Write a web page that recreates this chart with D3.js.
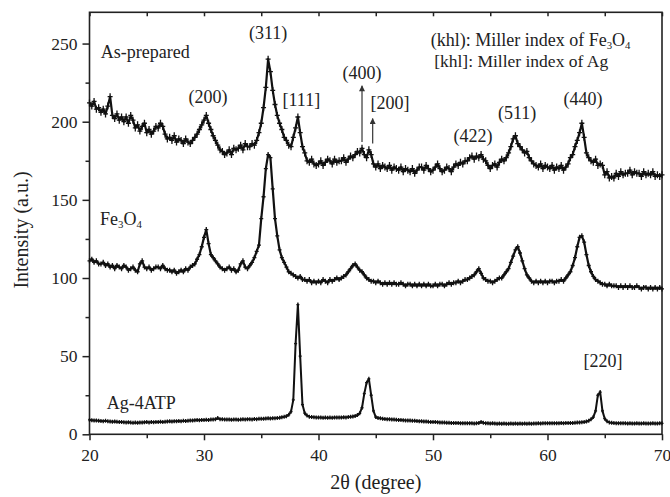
<!DOCTYPE html>
<html>
<head>
  <meta charset="UTF-8">
  <title>XRD patterns</title>
  <script src="https://d3js.org/d3.v7.min.js"></script>
  <style>
    body { margin: 0; background: #fff; }
    svg text { font-family: "Liberation Serif", "Times New Roman", serif; fill: #222; }
    .frame { fill: none; stroke: #222; stroke-width: 1.6; }
  </style>
</head>
<body>
<svg id="chart" width="670" height="497"></svg>
<script>
  // 2-theta scan: 20 to 70 deg, 0.2 deg step (one value per step below)
  const scanStart = 20;
  const scanStep = 0.2;

  // As-prepared intensities (a.u.)
  const asPrepared = [
    212, 210, 213, 208, 209,  206, 208, 205, 210, 216,
    204, 202, 205, 201, 203,  200, 203, 199, 204, 201,
    196, 198, 194, 197, 199,  193, 195, 192, 194, 197,
    196, 199, 197, 192, 189,  190, 188, 191, 187, 189,
    188, 186, 189, 187, 186,  188, 190, 192, 195, 198,
    201, 204, 199, 195, 191,  188, 185, 182, 181, 179,
    180, 182, 179, 183, 182,  183, 185, 182, 186, 184,
    184, 186, 185, 188, 193,  199, 209, 222, 240, 232,
    220, 211, 204, 199, 195,  190, 188, 185, 184, 190,
    196, 203, 193, 184, 180,  175, 174, 176, 173, 172,
    173, 175, 172, 174, 176,  175, 173, 176, 174, 175,
    175, 177, 174, 176, 178,  177, 179, 181, 180, 183,
    179, 177, 182, 179, 173,  171, 173, 170, 172, 171,
    170, 172, 169, 171, 170,  169, 171, 168, 170, 169,
    168, 170, 167, 169, 171,  171, 169, 172, 170, 168,
    169, 171, 173, 170, 168,  169, 171, 170, 168, 171,
    173, 172, 174, 173, 175,  175, 177, 178, 176, 178,
    177, 179, 176, 175, 172,  170, 172, 173, 171, 174,
    176, 175, 177, 180, 184,  189, 191, 186, 184, 182,
    180, 181, 177, 175, 173,  172, 171, 173, 170, 172,
    171, 170, 172, 169, 171,  170, 172, 169, 171, 173,
    177, 179, 184, 188, 193,  199, 190, 180, 177, 175,
    174, 176, 172, 173, 172,  166, 168, 164, 165, 164,
    167, 165, 168, 166, 167,  167, 169, 166, 168, 167,
    167, 165, 168, 166, 167,  166, 168, 165, 166, 165,
    166
  ];

  // Fe3O4 intensities (a.u.)
  const fe3o4 = [
    111, 112, 110, 111, 109,  109, 110, 108, 109, 107,
    108, 106, 108, 107, 106,  108, 107, 105, 106, 107,
    105, 104, 109, 111, 107,  106, 107, 105, 106, 107,
    107, 106, 108, 106, 105,  105, 104, 105, 103, 104,
    105, 104, 106, 105, 107,  108, 109, 112, 115, 120,
    126, 131, 122, 115, 113,  111, 109, 107, 106, 105,
    106, 107, 105, 106, 104,  105, 109, 111, 107, 106,
    108, 110, 113, 117, 121,  138, 152, 170, 179, 177,
    157, 138, 127, 118, 113,  110, 107, 104, 103, 102,
    101, 100, 101, 99, 99,    98, 99, 97, 98, 97,
    98, 97, 99, 98, 97,       99, 98, 99, 100, 99,
    100, 101, 102, 104, 106,  108, 109, 107, 105, 104,
    102, 100, 99, 98, 98,     97, 98, 97, 96, 97,
    96, 97, 96, 97, 96,       96, 97, 96, 95, 96,
    96, 95, 96, 95, 96,       95, 96, 95, 96, 95,
    95, 96, 95, 96, 96,       95, 96, 97, 96, 97,
    97, 98, 97, 98, 99,       99, 100, 101, 102, 104,
    106, 103, 100, 99, 98,    98, 97, 98, 99, 100,
    100, 102, 104, 106, 110,  114, 118, 120, 116, 111,
    106, 102, 100, 98, 97,    98, 97, 98, 97, 98,
    97, 98, 98, 97, 98,       98, 99, 98, 100, 102,
    104, 108, 113, 120, 126,  127, 123, 115, 108, 104,
    101, 99, 98, 97, 96,      96, 95, 96, 95, 95,
    95, 94, 95, 94, 95,       94, 95, 94, 94, 95,
    94, 93, 94, 94, 93,       94, 93, 94, 93, 94,
    93
  ];

  // Ag-4ATP intensities (a.u.)
  const ag4atp = [
    9.2, 9.0, 8.8, 8.9, 8.6,     8.5, 8.4, 8.6, 8.3, 8.2,
    8.1, 8.2, 8.0, 7.9, 7.8,     7.7, 7.6, 7.7, 7.5, 7.4,
    7.5, 7.4, 7.6, 7.5, 7.7,     7.8, 7.6, 7.8, 7.7, 7.9,
    7.8, 8.0, 7.9, 8.1, 8.2,     8.3, 8.2, 8.4, 8.3, 8.5,
    8.4, 8.6, 8.5, 8.7, 8.9,     8.8, 9.0, 9.1, 9.0, 9.2,
    9.1, 9.3, 9.2, 9.4, 9.5,     9.6, 10.4, 9.7, 9.6, 9.5,
    9.4, 9.5, 9.3, 9.4, 9.5,     9.3, 9.4, 9.6, 9.5, 9.7,
    9.6, 9.5, 9.8, 9.7, 9.9,     10.0, 9.9, 10.1, 10.2, 10.1,
    10.3, 10.2, 10.5, 10.6, 10.9, 11.2, 11.6, 12.5, 14.5, 22,
    58, 83, 50, 19, 13.5,        12.0, 11.3, 11.0, 10.9, 10.8,
    10.7, 10.8, 10.6, 10.7, 10.6, 10.7, 10.6, 10.8, 10.7, 10.8,
    10.7, 10.9, 10.8, 11.0, 11.2, 11.4, 11.7, 12.3, 13.4, 17,
    26, 33, 35.5, 25, 15,        11.0, 10.4, 10.2, 10.0, 9.8,
    9.7, 9.6, 9.5, 9.4, 9.3,     9.2, 9.1, 9.0, 8.9, 8.9,
    8.8, 8.7, 8.7, 8.5, 8.4,     8.3, 8.2, 8.2, 8.0, 7.9,
    7.8, 7.8, 7.7, 7.6, 7.5,     7.5, 7.4, 7.4, 7.3, 7.3,
    7.2, 7.2, 7.1, 7.1, 7.0,     7.0, 7.1, 7.0, 6.9, 7.0,
    7.2, 7.9, 7.4, 7.1, 7.0,     6.9, 7.0, 6.9, 6.8, 6.9,
    6.8, 6.9, 6.8, 6.8, 6.9,     6.8, 6.9, 6.8, 6.9, 6.8,
    6.9, 6.8, 6.9, 6.8, 6.9,     6.9, 7.0, 6.9, 7.0, 7.0,
    7.0, 7.1, 7.0, 7.1, 7.1,     7.1, 7.2, 7.1, 7.2, 7.2,
    7.3, 7.2, 7.4, 7.5, 7.6,     7.7, 7.9, 8.2, 8.7, 9.6,
    11, 15, 25, 27, 15,          10, 8.3, 7.6, 7.4, 7.2,
    7.1, 7.1, 7.0, 7.0, 7.0,     6.9, 7.0, 6.9, 6.9, 7.0,
    6.9, 6.9, 7.0, 6.9, 6.9,     6.9, 7.0, 6.9, 6.9, 7.0,
    7.0
  ];

  // Axis ticks
  const xTicks = [20, 30, 40, 50, 60, 70];
  const xMinorTicks = [25, 35, 45, 55, 65];
  const yTicks = [0, 50, 100, 150, 200, 250];
  const yMinorTicks = [25, 75, 125, 175, 225];

  // Peak labels: [text, 2theta, intensity]
  const peakLabels = [
    ["(200)", 30.35, 212],
    ["(311)", 35.6, 253],
    ["[111]", 38.5, 210],
    ["(400)", 43.8, 227.5],
    ["[200]", 46.25, 208],
    ["(422)", 53.5, 187],
    ["(511)", 57.35, 202],
    ["(440)", 63.1, 210.5],
    ["[220]", 64.85, 43]
  ];

  // Arrows under (400) and [200]: [2theta, from, to]
  const peakArrows = [
    [43.8, 187, 223],
    [44.73, 186, 202]
  ];

  //
  // * Setup
  //
  const serif = "'Liberation Serif', 'Times New Roman', serif";
  const plotLeft = 89.5, plotRight = 662, plotTop = 12.3, plotBottom = 434.3;

  const x = d3.scaleLinear().domain([20, 70]).range([plotLeft, plotRight]);
  const y = d3.scaleLinear().domain([0, 270]).range([plotBottom, plotTop]);

  const svg = d3.select("#chart");

  // Arrow head, drawn along +x so orient=auto points it up the line
  svg.append("defs").append("marker")
    .attr("id", "arrowHead")
    .attr("viewBox", "0 0 10 10")
    .attr("refX", 9).attr("refY", 5)
    .attr("markerWidth", 9).attr("markerHeight", 6)
    .attr("markerUnits", "userSpaceOnUse")
    .attr("orient", "auto")
    .append("path")
    .attr("d", "M0,0 L10,5 L0,10 Z")
    .attr("fill", "#333");

  // Plot frame
  svg.append("rect")
    .attr("class", "frame")
    .attr("x", plotLeft).attr("y", plotTop)
    .attr("width", plotRight - plotLeft).attr("height", plotBottom - plotTop);

  function styleAxis(g) {
    g.attr("font-family", serif);
    g.select(".domain").remove();
    g.selectAll("line").attr("stroke", "#222").attr("stroke-width", 1.5);
    g.selectAll("text").attr("font-size", 17.5).attr("fill", "#222").attr("font-family", serif);
  }

  // Bottom axis
  svg.append("g")
    .attr("transform", "translate(0," + plotBottom + ")")
    .call(d3.axisBottom(x).tickValues(xTicks).tickSize(6).tickPadding(8).tickFormat(d3.format("d")))
    .call(styleAxis);

  svg.append("g")
    .attr("transform", "translate(0," + plotBottom + ")")
    .call(d3.axisBottom(x).tickValues(xMinorTicks).tickSize(4).tickFormat(""))
    .call(styleAxis);

  // Top ticks, pointing inward
  svg.append("g")
    .attr("transform", "translate(0," + plotTop + ")")
    .call(d3.axisBottom(x).tickValues(xTicks.concat(xMinorTicks)).tickSize(4).tickFormat(""))
    .call(styleAxis);

  // Left axis
  svg.append("g")
    .attr("transform", "translate(" + plotLeft + ",0)")
    .call(d3.axisLeft(y).tickValues(yTicks).tickSize(7).tickPadding(5))
    .call(styleAxis);

  svg.append("g")
    .attr("transform", "translate(" + plotLeft + ",0)")
    .call(d3.axisLeft(y).tickValues(yMinorTicks).tickSize(4).tickFormat(""))
    .call(styleAxis);

  // Axis titles
  svg.append("text")
    .attr("x", (plotLeft + plotRight) / 2).attr("y", 489)
    .attr("text-anchor", "middle")
    .attr("font-family", serif)
    .attr("font-size", 20)
    .text("2\u03b8 (degree)");

  svg.append("text")
    .attr("transform", "translate(28,230) rotate(-90)")
    .attr("text-anchor", "middle")
    .attr("font-family", serif)
    .attr("font-size", 20)
    .text("Intensity (a.u.)");

  //
  // * Draw the three patterns, line plus "+" markers
  //
  function drawPattern(values, lineWidth, markW, markH) {
    const pts = values.map((v, i) => [scanStart + i * scanStep, v]);
    const line = d3.line().x(d => x(d[0])).y(d => y(d[1]));

    svg.append("path")
      .datum(pts)
      .attr("fill", "none")
      .attr("stroke", "#111")
      .attr("stroke-width", lineWidth)
      .attr("stroke-linejoin", "round")
      .attr("d", line);

    svg.append("path")
      .attr("fill", "none")
      .attr("stroke", "#111")
      .attr("stroke-width", 1.3)
      .attr("d", pts.map(d => {
        const px = x(d[0]), py = y(d[1]);
        return "M" + (px - markW / 2) + "," + py + "h" + markW +
          "M" + px + "," + (py - markH / 2) + "v" + markH;
      }).join(""));
  }

  drawPattern(asPrepared, 2.2, 5, 7);
  drawPattern(fe3o4, 2.2, 4, 5);
  drawPattern(ag4atp, 2.0, 3, 4);

  // Text with chemical subscripts, parts: [text, isSub]
  function chemText(parts, tx, ty, size) {
    const t = svg.append("text")
      .attr("x", tx).attr("y", ty)
      .attr("font-family", serif)
      .attr("font-size", size);
    let sub = false;
    parts.forEach(p => {
      const s = t.append("tspan").text(p[0]);
      if (p[1]) s.attr("font-size", size * 0.6);
      if (p[1] && !sub) s.attr("dy", 3);
      else if (!p[1] && sub) s.attr("dy", -3);
      sub = p[1];
    });
    return t;
  }

  function plainText(str, tx, ty, size) {
    return svg.append("text")
      .attr("x", tx).attr("y", ty)
      .attr("font-family", serif)
      .attr("font-size", size)
      .text(str);
  }

  // Series labels
  plainText("As-prepared", x(20.98), y(240.6), 18);
  chemText([["Fe", false], ["3", true], ["O", false], ["4", true]], x(20.92), y(133.8), 18);
  plainText("Ag-4ATP", x(21.5), y(16), 18);

  // Legend notes
  chemText([["(khl): Miller index of Fe", false], ["3", true], ["O", false], ["4", true]], x(49.8), y(248.2), 18);
  plainText("[khl]: Miller index of Ag", x(50.1), y(235.2), 17.5);

  // Peak labels
  svg.selectAll(".peakLabel")
    .data(peakLabels)
    .enter()
    .append("text")
    .attr("class", "peakLabel")
    .attr("x", d => x(d[1]))
    .attr("y", d => y(d[2]))
    .attr("text-anchor", "middle")
    .attr("font-family", serif)
    .attr("font-size", 18)
    .text(d => d[0]);

  // Arrows
  svg.selectAll(".peakArrow")
    .data(peakArrows)
    .enter()
    .append("line")
    .attr("class", "peakArrow")
    .attr("x1", d => x(d[0])).attr("x2", d => x(d[0]))
    .attr("y1", d => y(d[1])).attr("y2", d => y(d[2]))
    .attr("stroke", "#444")
    .attr("stroke-width", 1.3)
    .attr("marker-end", "url(#arrowHead)");
</script>
</body>
</html>
